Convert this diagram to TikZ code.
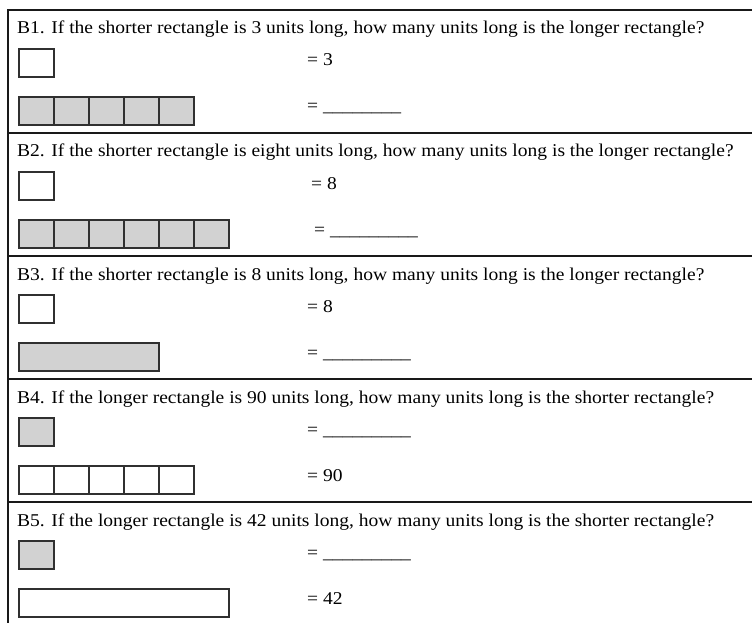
\documentclass[tikz,border=0pt]{standalone}
\usepackage{fontspec}
\setmainfont{Liberation Serif}[FakeStretch=1.085]
\usetikzlibrary{positioning}
\definecolor{FrameBlack}{RGB}{25,25,25}
\definecolor{CellGray}{RGB}{210,210,210}
\tikzset{
  frame/.style={line width=1.2pt,FrameBlack},
  question/.style={anchor=base west,inner sep=0pt,font=\fontsize{18}{21}\selectfont},
  answer/.style={anchor=base west,inner sep=0pt,font=\fontsize{18}{21}\selectfont},
  blank/.style={draw=FrameBlack!90,line width=1.2pt,minimum width=35pt,
    minimum height=28pt,inner sep=0pt,outer sep=0pt},
  shaded/.style={blank,fill=CellGray},
  strip/.style={blank,minimum width=#1},
  shadedstrip/.style={shaded,minimum width=#1}
}

\begin{document}
\begin{tikzpicture}[x=1pt,y=-1pt,node distance=0pt]
  \useasboundingbox (0,0) rectangle (752,623);
  % frame and separators
  \draw[frame] (752,10) -- (8,10) -- (8,623);
  \foreach \t in {133,256,379,502}{
    \draw[frame] (8,\t) -- (752,\t);
  }

  % B1
  \node[question] (q1) at (17,34) {B1. If the shorter rectangle is 3 units long, how many units long is the longer rectangle?};
  \node[blank,anchor=north west] (s1) at (19,49) {};
  \node[shaded,anchor=north west] (l1c1) at (19,97) {};
  \foreach \i [remember=\i as \j (initially 1)] in {2,...,5}{
    \node[shaded,right=of l1c\j] (l1c\i) {};
  }
  \node[answer] (a1s) at (307,66) {= 3};
  \node[answer] (a1l) at (307,112) {= \_\_\_\_\_\_\_\_};

  % B2
  \node[question] (q2) at (17,157) {B2. If the shorter rectangle is eight units long, how many units long is the longer rectangle?};
  \node[blank,anchor=north west] (s2) at (19,172) {};
  \node[shaded,anchor=north west] (l2c1) at (19,220) {};
  \foreach \i [remember=\i as \j (initially 1)] in {2,...,6}{
    \node[shaded,right=of l2c\j] (l2c\i) {};
  }
  \node[answer] (a2s) at (311,189) {= 8};
  \node[answer] (a2l) at (314,235) {= \_\_\_\_\_\_\_\_\_};

  % B3
  \node[question] (q3) at (17,280) {B3. If the shorter rectangle is 8 units long, how many units long is the longer rectangle?};
  \node[blank,anchor=north west] (s3) at (19,295) {};
  \node[shadedstrip=140pt,anchor=north west] (l3) at (19,343) {};
  \node[answer] (a3s) at (307,312) {= 8};
  \node[answer] (a3l) at (307,358) {= \_\_\_\_\_\_\_\_\_};

  % B4
  \node[question] (q4) at (17,403) {B4. If the longer rectangle is 90 units long, how many units long is the shorter rectangle?};
  \node[shaded,anchor=north west] (s4) at (19,418) {};
  \node[blank,anchor=north west] (l4c1) at (19,466) {};
  \foreach \i [remember=\i as \j (initially 1)] in {2,...,5}{
    \node[blank,right=of l4c\j] (l4c\i) {};
  }
  \node[answer] (a4s) at (307,435) {= \_\_\_\_\_\_\_\_\_};
  \node[answer] (a4l) at (307,481) {= 90};

  % B5
  \node[question] (q5) at (17,526) {B5. If the longer rectangle is 42 units long, how many units long is the shorter rectangle?};
  \node[shaded,anchor=north west] (s5) at (19,541) {};
  \node[strip=210pt,anchor=north west] (l5) at (19,589) {};
  \node[answer] (a5s) at (307,558) {= \_\_\_\_\_\_\_\_\_};
  \node[answer] (a5l) at (307,604) {= 42};
\end{tikzpicture}
\end{document}
